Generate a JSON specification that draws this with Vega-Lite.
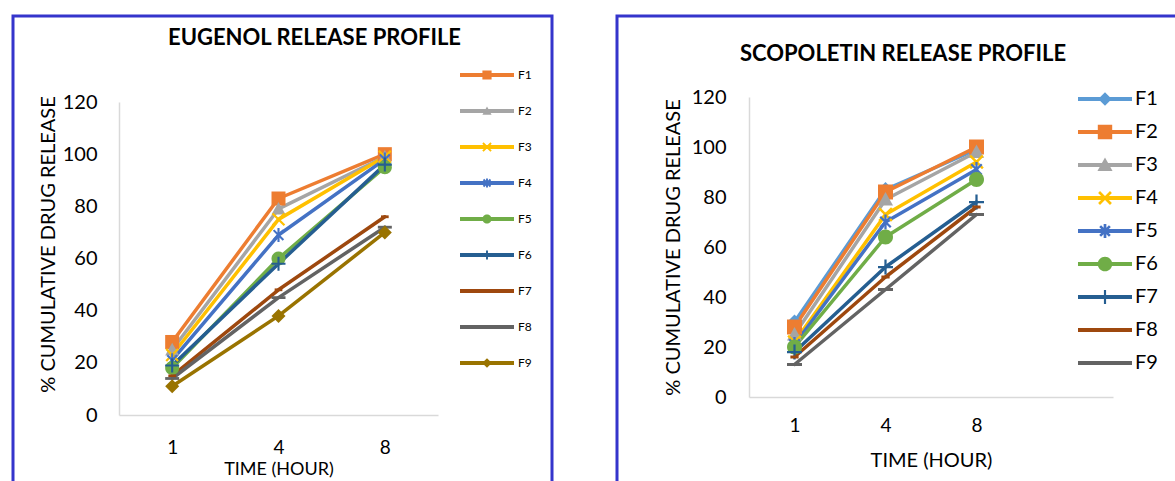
{
  "$schema": "https://vega.github.io/schema/vega-lite/v6.json",
  "background": "white",
  "padding": {"left": 11, "top": 14, "right": 0, "bottom": 0},
  "spacing": 61,
  "config": {
    "font": "Lato",
    "view": {"stroke": "#3535cc", "strokeWidth": 3},
    "axis": {
      "labelFont": "Lato", "titleFont": "Lato", "labelColor": "#000", "titleColor": "#000",
      "titleFontWeight": "normal", "domainColor": "#d9d9d9", "domainWidth": 1.5,
      "ticks": false, "tickSize": 0, "grid": false, "labelAngle": 0
    },
    "legend": {"labelFont": "Lato", "labelColor": "#000", "symbolStrokeWidth": 0, "padding": 0, "symbolOpacity": 1},
    "title": {"font": "Lato", "fontWeight": "bold", "color": "#000"},
    "point": {"filled": true, "opacity": 1, "strokeWidth": 0}
  },
  "datasets": {
    "eugenol": [
      {"series": "F1", "time": "1", "release": 28}, {"series": "F1", "time": "4", "release": 83}, {"series": "F1", "time": "8", "release": 100},
      {"series": "F2", "time": "1", "release": 25}, {"series": "F2", "time": "4", "release": 79}, {"series": "F2", "time": "8", "release": 99},
      {"series": "F3", "time": "1", "release": 23}, {"series": "F3", "time": "4", "release": 75}, {"series": "F3", "time": "8", "release": 99},
      {"series": "F4", "time": "1", "release": 21}, {"series": "F4", "time": "4", "release": 69}, {"series": "F4", "time": "8", "release": 98},
      {"series": "F5", "time": "1", "release": 18}, {"series": "F5", "time": "4", "release": 60}, {"series": "F5", "time": "8", "release": 95},
      {"series": "F6", "time": "1", "release": 19}, {"series": "F6", "time": "4", "release": 58}, {"series": "F6", "time": "8", "release": 96},
      {"series": "F7", "time": "1", "release": 15}, {"series": "F7", "time": "4", "release": 48}, {"series": "F7", "time": "8", "release": 76},
      {"series": "F8", "time": "1", "release": 14}, {"series": "F8", "time": "4", "release": 45}, {"series": "F8", "time": "8", "release": 72},
      {"series": "F9", "time": "1", "release": 11}, {"series": "F9", "time": "4", "release": 38}, {"series": "F9", "time": "8", "release": 70}
    ],
    "scopoletin": [
      {"series": "F1", "time": "1", "release": 30}, {"series": "F1", "time": "4", "release": 83}, {"series": "F1", "time": "8", "release": 99},
      {"series": "F2", "time": "1", "release": 28}, {"series": "F2", "time": "4", "release": 82}, {"series": "F2", "time": "8", "release": 100},
      {"series": "F3", "time": "1", "release": 25}, {"series": "F3", "time": "4", "release": 79}, {"series": "F3", "time": "8", "release": 98},
      {"series": "F4", "time": "1", "release": 22}, {"series": "F4", "time": "4", "release": 73}, {"series": "F4", "time": "8", "release": 94},
      {"series": "F5", "time": "1", "release": 21}, {"series": "F5", "time": "4", "release": 70}, {"series": "F5", "time": "8", "release": 91},
      {"series": "F6", "time": "1", "release": 20}, {"series": "F6", "time": "4", "release": 64}, {"series": "F6", "time": "8", "release": 87},
      {"series": "F7", "time": "1", "release": 18}, {"series": "F7", "time": "4", "release": 52}, {"series": "F7", "time": "8", "release": 78},
      {"series": "F8", "time": "1", "release": 16}, {"series": "F8", "time": "4", "release": 48}, {"series": "F8", "time": "8", "release": 76},
      {"series": "F9", "time": "1", "release": 13}, {"series": "F9", "time": "4", "release": 43}, {"series": "F9", "time": "8", "release": 73}
    ]
  },
  "hconcat": [
    {
      "width": 539,
      "height": 480,
      "data": {"name": "eugenol"},
      "title": {"text": "EUGENOL RELEASE PROFILE", "fontSize": 22, "anchor": "middle", "frame": "group", "offset": 0, "dx": 32, "dy": 34},
      "encoding": {
        "x": {
          "field": "time", "type": "ordinal",
          "scale": {"domain": ["1", "4", "8"], "range": [106, 425], "padding": 0.5},
          "axis": {"title": "TIME (HOUR)", "offset": -81, "labelPadding": 23, "labelFontSize": 19, "titleFontSize": 18, "titlePadding": 3}
        },
        "y": {
          "field": "release", "type": "quantitative",
          "scale": {"domain": [0, 120], "range": [399, 86], "nice": false},
          "axis": {"title": "% CUMULATIVE DRUG RELEASE", "offset": -106, "values": [0, 20, 40, 60, 80, 100, 120], "labelPadding": 22, "labelFontSize": 20, "titleFontSize": 20, "titlePadding": 4, "titleY": 228}
        },
        "color": {"field": "series", "type": "nominal",
          "scale": {"domain": ["F1", "F2", "F3", "F4", "F5", "F6", "F7", "F8", "F9"],
                    "range": ["#ED7D31", "#A5A5A5", "#FFC000", "#4472C4", "#70AD47", "#255E91", "#9E480E", "#636363", "#997300"]},
          "legend": {
            "title": null, "orient": "none", "legendX": 447, "legendY": 32, "direction": "vertical",
            "labelFontSize": 12, "labelOffset": 4, "rowPadding": 3, "symbolSize": 2916,
            "encode": {"symbols": {"update": {
              "size": {"value": 2916},
              "opacity": {"value": 1},
              "strokeWidth": {"value": 0},
              "stroke": {"value": "transparent"},
              "fill": {"signal": "['#ED7D31','#A5A5A5','#FFC000','#4472C4','#70AD47','#255E91','#9E480E','#636363','#997300'][indexof(['F1','F2','F3','F4','F5','F6','F7','F8','F9'], datum.value)]"},
              "shape": {"signal": "['M-1,-0.07H1V0.07H-1ZM-0.17,-0.17H0.17V0.17H-0.17Z','M-1,-0.07H1V0.07H-1ZM0,-0.17L0.17,0.14L-0.17,0.14Z','M-1,-0.07H1V0.07H-1ZM-0.125,-0.175L0.175,0.125L0.125,0.175L-0.175,-0.125ZM0.125,-0.175L0.175,-0.125L-0.125,0.175L-0.175,0.125Z','M-1,-0.07H1V0.07H-1ZM-0.105,-0.155L0.155,0.105L0.105,0.155L-0.155,-0.105ZM0.105,-0.155L0.155,-0.105L-0.105,0.155L-0.155,0.105ZM-0.035,-0.17H0.035V0.17H-0.035Z','M-1,-0.07H1V0.07H-1ZM-0.17,0A0.17,0.17 0 1,1 0.17,0A0.17,0.17 0 1,1 -0.17,0Z','M-1,-0.07H1V0.07H-1ZM-0.035,-0.17H0.035V0.17H-0.035Z','M-1,-0.07H1V0.07H-1Z','M-1,-0.07H1V0.07H-1Z','M-1,-0.07H1V0.07H-1ZM0,-0.18L0.18,0L0,0.18L-0.18,0Z'][indexof(['F1','F2','F3','F4','F5','F6','F7','F8','F9'], datum.value)]"}
            }}}
          }
        }
      },
      "layer": [
        {"mark": {"type": "line", "strokeWidth": 3.5, "strokeJoin": "round", "strokeCap": "round"}},
        {"transform": [{"filter": "datum.series === 'F1'"}], "mark": {"type": "point", "size": 196, "shape": "M-1,-1H1V1H-1Z"}},
        {"transform": [{"filter": "datum.series === 'F2'"}], "mark": {"type": "point", "size": 196, "shape": "M0,-1L1,0.8L-1,0.8Z"}},
        {"transform": [{"filter": "datum.series === 'F3'"}], "mark": {"type": "point", "size": 196, "shape": "M-0.737,-0.963L0.963,0.737L0.737,0.963L-0.963,-0.737ZM0.737,-0.963L0.963,-0.737L-0.737,0.963L-0.963,0.737Z"}},
        {"transform": [{"filter": "datum.series === 'F4'"}], "mark": {"type": "point", "size": 196, "shape": "M-0.594,-0.806L0.806,0.594L0.594,0.806L-0.806,-0.594ZM0.594,-0.806L0.806,-0.594L-0.594,0.806L-0.806,0.594ZM-0.15,-1H0.15V1H-0.15Z"}},
        {"transform": [{"filter": "datum.series === 'F5'"}], "mark": {"type": "point", "size": 196, "shape": "M-1,0A1,1 0 1,1 1,0A1,1 0 1,1 -1,0Z"}},
        {"transform": [{"filter": "datum.series === 'F6'"}], "mark": {"type": "point", "size": 196, "shape": "M-0.15,-1H0.15V1H-0.15ZM-1,-0.15H1V0.15H-1Z"}},
        {"transform": [{"filter": "datum.series === 'F7'"}], "mark": {"type": "point", "size": 196, "shape": "M-0.55,-0.2H0.55V0.2H-0.55Z"}},
        {"transform": [{"filter": "datum.series === 'F8'"}], "mark": {"type": "point", "size": 196, "shape": "M-1,-0.2H1V0.2H-1Z"}},
        {"transform": [{"filter": "datum.series === 'F9'"}], "mark": {"type": "point", "size": 196, "shape": "M0,-1L1,0L0,1L-1,0Z"}}
      ]
    },
    {
      "width": 578,
      "height": 480,
      "data": {"name": "scopoletin"},
      "title": {"text": "SCOPOLETIN RELEASE PROFILE", "fontSize": 22, "anchor": "middle", "frame": "group", "offset": 0, "dx": -3, "dy": 50},
      "encoding": {
        "x": {
          "field": "time", "type": "ordinal",
          "scale": {"domain": ["1", "4", "8", ""], "range": [132, 496], "padding": 0.5},
          "axis": {"title": "TIME (HOUR)", "values": ["1", "4", "8"], "offset": -99, "labelPadding": 19, "labelFontSize": 19, "titleFontSize": 20, "titlePadding": 15}
        },
        "y": {
          "field": "release", "type": "quantitative",
          "scale": {"domain": [0, 120], "range": [381, 81], "nice": false},
          "axis": {"title": "% CUMULATIVE DRUG RELEASE", "offset": -132, "values": [0, 20, 40, 60, 80, 100, 120], "labelPadding": 23, "labelFontSize": 20, "titleFontSize": 20, "titlePadding": 8}
        },
        "color": {"field": "series", "type": "nominal",
          "scale": {"domain": ["F1", "F2", "F3", "F4", "F5", "F6", "F7", "F8", "F9"],
                    "range": ["#5B9BD5", "#ED7D31", "#A5A5A5", "#FFC000", "#4472C4", "#70AD47", "#255E91", "#9E480E", "#636363"]},
          "legend": {
            "title": null, "orient": "none", "legendX": 461, "legendY": 60.5, "direction": "vertical",
            "labelFontSize": 20, "labelOffset": 12, "rowPadding": 0, "symbolSize": 2025,
            "encode": {"symbols": {"update": {
              "size": {"value": 2025},
              "opacity": {"value": 1},
              "strokeWidth": {"value": 0},
              "stroke": {"value": "transparent"},
              "fill": {"signal": "['#5B9BD5','#ED7D31','#A5A5A5','#FFC000','#4472C4','#70AD47','#255E91','#9E480E','#636363'][indexof(['F1','F2','F3','F4','F5','F6','F7','F8','F9'], datum.value)]"},
              "shape": {"signal": "['M-1,-0.09H1.4V0.09H-1ZM0.2,-0.3L0.5,0L0.2,0.3L-0.1,0Z','M-1,-0.09H1.4V0.09H-1ZM-0.12,-0.32H0.52V0.32H-0.12Z','M-1,-0.09H1.4V0.09H-1ZM0.2,-0.336L0.536,0.264L-0.136,0.264Z','M-1,-0.09H1.4V0.09H-1ZM-0.022,-0.306L0.506,0.222L0.422,0.306L-0.106,-0.222ZM0.422,-0.306L0.506,-0.222L-0.022,0.306L-0.106,0.222Z','M-1,-0.09H1.4V0.09H-1ZM0.026,-0.258L0.458,0.174L0.374,0.258L-0.058,-0.174ZM0.374,-0.258L0.458,-0.174L0.026,0.258L-0.058,0.174ZM0.14,-0.312H0.26V0.312H0.14Z','M-1,-0.09H1.4V0.09H-1ZM-0.124,0A0.324,0.324 0 1,1 0.524,0A0.324,0.324 0 1,1 -0.124,0Z','M-1,-0.09H1.4V0.09H-1ZM0.152,-0.312H0.248V0.312H0.152Z','M-1,-0.09H1.4V0.09H-1Z','M-1,-0.09H1.4V0.09H-1Z'][indexof(['F1','F2','F3','F4','F5','F6','F7','F8','F9'], datum.value)]"}
            }}}
          }
        }
      },
      "layer": [
        {"mark": {"type": "line", "strokeWidth": 3.5, "strokeJoin": "round", "strokeCap": "round"}},
        {"transform": [{"filter": "datum.series === 'F1'"}], "mark": {"type": "point", "size": 225, "shape": "M0,-1L1,0L0,1L-1,0Z"}},
        {"transform": [{"filter": "datum.series === 'F2'"}], "mark": {"type": "point", "size": 225, "shape": "M-1,-1H1V1H-1Z"}},
        {"transform": [{"filter": "datum.series === 'F3'"}], "mark": {"type": "point", "size": 225, "shape": "M0,-1L1,0.8L-1,0.8Z"}},
        {"transform": [{"filter": "datum.series === 'F4'"}], "mark": {"type": "point", "size": 225, "shape": "M-0.737,-0.963L0.963,0.737L0.737,0.963L-0.963,-0.737ZM0.737,-0.963L0.963,-0.737L-0.737,0.963L-0.963,0.737Z"}},
        {"transform": [{"filter": "datum.series === 'F5'"}], "mark": {"type": "point", "size": 225, "shape": "M-0.594,-0.806L0.806,0.594L0.594,0.806L-0.806,-0.594ZM0.594,-0.806L0.806,-0.594L-0.594,0.806L-0.806,0.594ZM-0.15,-1H0.15V1H-0.15Z"}},
        {"transform": [{"filter": "datum.series === 'F6'"}], "mark": {"type": "point", "size": 225, "shape": "M-1,0A1,1 0 1,1 1,0A1,1 0 1,1 -1,0Z"}},
        {"transform": [{"filter": "datum.series === 'F7'"}], "mark": {"type": "point", "size": 225, "shape": "M-0.15,-1H0.15V1H-0.15ZM-1,-0.15H1V0.15H-1Z"}},
        {"transform": [{"filter": "datum.series === 'F8'"}], "mark": {"type": "point", "size": 225, "shape": "M-0.55,-0.2H0.55V0.2H-0.55Z"}},
        {"transform": [{"filter": "datum.series === 'F9'"}], "mark": {"type": "point", "size": 225, "shape": "M-1,-0.2H1V0.2H-1Z"}}
      ]
    }
  ],
  "resolve": {
    "scale": {"x": "independent", "y": "independent", "color": "independent"},
    "legend": {"color": "independent"}
  }
}
